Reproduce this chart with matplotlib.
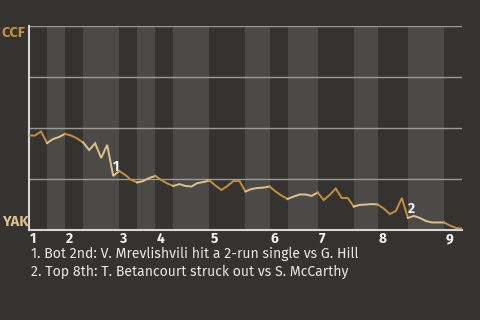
import matplotlib
matplotlib.use("Agg")
import matplotlib.pyplot as plt

# CCF win probability after each plate appearance
win_prob = [0.463, 0.463, 0.483, 0.426, 0.446, 0.456, 0.471, 0.463, 0.449, 0.429,
            0.392, 0.425, 0.353, 0.417, 0.265, 0.289, 0.270, 0.245, 0.233, 0.240,
            0.255, 0.265, 0.245, 0.228, 0.216, 0.225, 0.216, 0.213, 0.230, 0.235,
            0.243, 0.218, 0.196, 0.216, 0.240, 0.240, 0.189, 0.201, 0.206, 0.208,
            0.213, 0.189, 0.169, 0.152, 0.164, 0.174, 0.174, 0.167, 0.184, 0.147,
            0.172, 0.203, 0.157, 0.157, 0.115, 0.123, 0.125, 0.127, 0.125, 0.105,
            0.078, 0.093, 0.157, 0.059, 0.069, 0.059, 0.044, 0.037, 0.037, 0.037,
            0.022, 0.010, 0.007]
# plate appearances per half inning (top 1, bot 1, top 2, ...)
half_pa = [3, 3, 3, 6, 3, 3, 3, 6, 6, 4, 3, 5, 6, 4, 5, 6, 3]
innings = ["1", "2", "3", "4", "5", "6", "7", "8", "9"]
away_team, home_team = "CCF", "YAK"
event_idx = [14, 63]
event_text = ["1. Bot 2nd: V. Mrevlishvili hit a 2-run single vs G. Hill",
              "2. Top 8th: T. Betancourt struck out vs S. McCarthy"]

BG = "#35332f"
STRIPE = "#4b4a48"
AWAY_C = "#c58f42"
HOME_C = "#dfc28a"

plt.rcParams["font.family"] = ["Fira Sans", "Noto Sans", "DejaVu Sans"]
fig = plt.figure(figsize=(4.8, 3.2), dpi=100, facecolor=BG)
ax = fig.add_axes([29 / 480, 1 - 230 / 320, 433 / 480, 204 / 320])
ax.set_facecolor(BG)

n = len(win_prob) - 1
ax.set_xlim(0, n)
ax.set_ylim(0, 1)

# half-inning stripes and line segments coloured by batting team
start = 0
for h, cnt in enumerate(half_pa):
    end = start + cnt
    top = h % 2 == 0
    if not top:
        ax.axvspan(start, end, color=STRIPE, lw=0, zorder=0)
    ax.plot(range(start, end + 1), win_prob[start:end + 1],
            color=AWAY_C if top else HOME_C, lw=1.4, zorder=3,
            solid_joinstyle="miter")
    start = end

for g in (0.25, 0.5, 0.75, 1.0):
    ax.axhline(g, color="#9b9a97", lw=1, zorder=1)

# inning labels at the start of each inning
starts = [sum(half_pa[:2 * k]) for k in range(len(innings))]
ax.set_xticks([])
ax.set_yticks([])
for s, lab in zip(starts, innings):
    ax.text(s + 0.2, -0.01, lab, ha="left", va="top", color="#f2f2f2",
            fontsize=10, fontweight="bold")

for sp in ("top", "right"):
    ax.spines[sp].set_visible(False)
for sp in ("left", "bottom"):
    ax.spines[sp].set_color("#d6d6d6")
    ax.spines[sp].set_linewidth(1.5)

for k, i in enumerate(event_idx):
    ax.text(i, win_prob[i] + 0.01, str(k + 1), ha="left", va="bottom",
            color="#f2f2f2", fontsize=10, fontweight="bold", zorder=4)

fig.text(2 / 480, 1 - 26 / 320, away_team, ha="left", va="top",
         color=AWAY_C, fontsize=10.5, fontweight="bold")
fig.text(2 / 480, 1 - 229 / 320, home_team, ha="left", va="bottom",
         color=HOME_C, fontsize=10.5, fontweight="bold")

for k, t in enumerate(event_text):
    fig.text(31 / 480, 1 - (254 + 18 * k) / 320, t, ha="left", va="center",
             color="#e8e8e8", fontsize=10.1)

fig.savefig("out.png", dpi=100, facecolor=BG)
